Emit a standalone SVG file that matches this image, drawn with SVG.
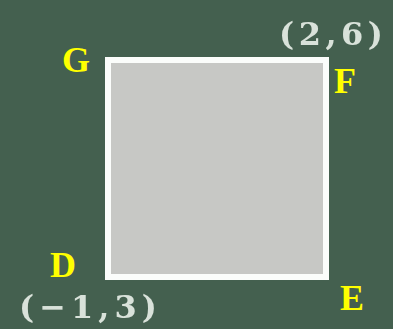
<svg xmlns="http://www.w3.org/2000/svg" width="393" height="329" viewBox="0 0 393 329">
<defs>
<style>
.lbl{font-family:"Liberation Serif","Times New Roman",serif;font-weight:bold;font-size:36px;fill:#ffff00}
.coord{font-family:"DejaVu Serif","Liberation Serif",serif;font-weight:bold;font-size:32px;fill:#d9e2da}
</style>
<filter id="soft" x="-10%" y="-10%" width="120%" height="120%"><feGaussianBlur stdDeviation="0.6"/></filter>
</defs>
<rect width="393" height="329" fill="#44604f"/>
<g id="square">
<rect x="108" y="60" width="218" height="217" fill="#c7c8c5" stroke="#fbfdfb" stroke-width="6" filter="url(#soft)"/>
</g>
<g id="G"><text class="lbl" x="62" y="72">G</text></g>
<g id="F"><text class="lbl" x="334" y="93">F</text></g>
<g id="D"><text class="lbl" x="50" y="277">D</text></g>
<g id="E"><text class="lbl" x="340" y="310">E</text></g>
<g id="coord-F"><text class="coord" x="279" y="45" textLength="104" lengthAdjust="spacing" filter="url(#soft)">(2,6)</text></g>
<g id="coord-D"><text class="coord" x="19" y="318" textLength="138" lengthAdjust="spacing" filter="url(#soft)">(−1,3)</text></g>
</svg>
